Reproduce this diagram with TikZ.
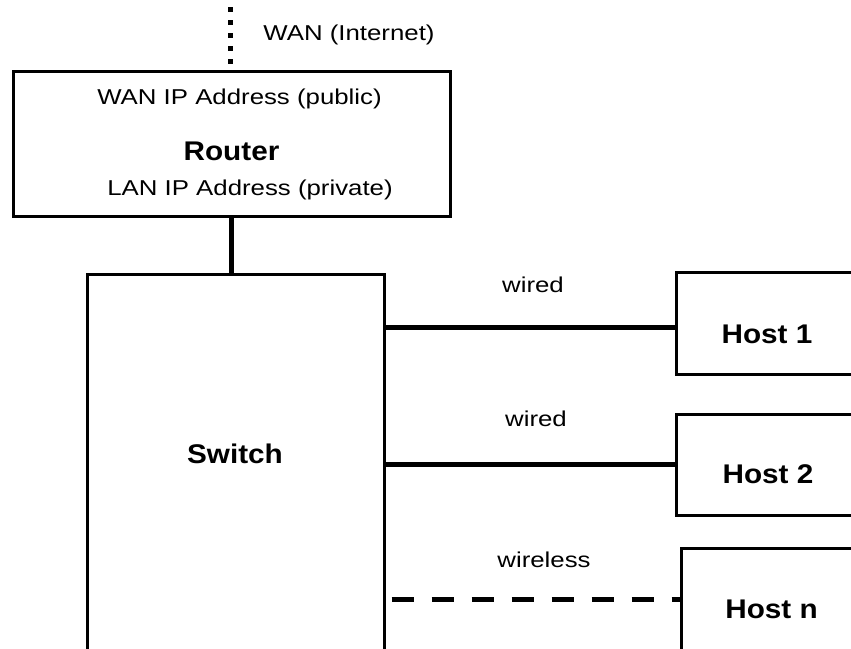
\documentclass[tikz,border=0pt]{standalone}
\usepackage{fontspec}
\setmainfont{Liberation Sans}
\newfontfamily\smallfont{Liberation Sans}[FakeStretch=1.2]
\newfontfamily\devfont{Liberation Sans}[FakeStretch=1.1]

\tikzset{
  box/.style={draw, line width=3pt, rectangle, inner sep=0pt},
  cable/.style={line width=5pt},
  wanline/.style={line width=5pt, dash pattern=on 5pt off 8pt},
  radio/.style={line width=5pt, dash pattern=on 22pt off 18pt, dash phase=34pt},
  lbl/.style={anchor=base, inner sep=0pt, font=\smallfont\fontsize{21.5}{24}\selectfont},
  devname/.style={anchor=base, inner sep=0pt, font=\devfont\bfseries\fontsize{27}{30}\selectfont},
}

\begin{document}
\begin{tikzpicture}[x=1pt, y=-1pt]
        % Page size
        \useasboundingbox (0,0) rectangle (851,648);
        \clip (0,0) rectangle (851,648);

        % Boxes
        \node[box, minimum width=437pt, minimum height=145pt] (router) at (231.5,144) {};
        \node[box, minimum width=297pt, minimum height=450pt] (switch) at (235.5,499) {};
        \node[box, minimum width=190pt, minimum height=102pt] (host1) at (771,323) {};
        \node[box, minimum width=190pt, minimum height=101pt] (host2) at (771,464.5) {};
        \node[box, minimum width=190pt, minimum height=130pt] (hostn) at (776.5,613) {};

        % Box texts
        \node[lbl] (wanip) at (239.5,104) {WAN IP Address (public)};
        \node[devname] (routerlbl) at (231.5,160.5) {Router};
        \node[lbl] (lanip) at (250,195.5) {LAN IP Address (private)};
        \node[devname] (switchlbl) at (235,463) {Switch};
        \node[devname] (host1lbl) at (767,343) {Host 1};
        \node[devname] (host2lbl) at (768,483) {Host 2};
        \node[devname] (hostnlbl) at (771.5,618) {Host n};

        % Uplink to the internet
        \coordinate (wan) at (230.5,7);
        \draw[wanline] (wan) -- (wan |- router.north);
        \node[lbl] (wanlbl) at (349,40) {WAN (Internet)};

        % Router to switch
        \draw[cable] (router.south) -- (router.south |- switch.north);

        % Switch to hosts
        \path ([yshift=-4pt]host1.west) coordinate (w1);
        \path ([yshift=13.5pt]hostn.west) coordinate (wl);
        \draw[cable] (switch.east |- w1) -- (w1);
        \draw[cable] (switch.east |- host2.west) -- (host2.west);
        \draw[radio] (switch.east |- wl) -- (wl);

        % Link labels
        \node[lbl] (wired1) at (533,292) {wired};
        \node[lbl] (wired2) at (536,426) {wired};
        \node[lbl] (wireless) at (544,567) {wireless};

    \end{tikzpicture}
\end{document}
